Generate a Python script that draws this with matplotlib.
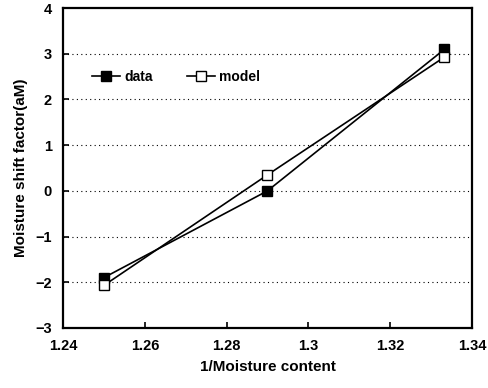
import matplotlib
matplotlib.use("Agg")
import matplotlib.pyplot as plt

x = [1.25, 1.29, 1.3333]
data_vals = [-1.9, 0.0, 3.1]
model_vals = [-2.07, 0.35, 2.93]
xticks = [1.24, 1.26, 1.28, 1.30, 1.32, 1.34]
xticklabels = ["1.24", "1.26", "1.28", "1.3", "1.32", "1.34"]
yticks = [-3, -2, -1, 0, 1, 2, 3, 4]

plt.rcParams['font.family'] = ['Liberation Sans', 'DejaVu Sans']
fig = plt.figure(figsize=(4.89, 3.88), dpi=100)
ax = fig.add_axes([0.129, 0.155, 0.836, 0.824])

ax.plot(x, data_vals, color='black', lw=1.2, marker='s', ms=6.5,
        mfc='black', mec='black', label='data')
ax.plot(x, model_vals, color='black', lw=1.2, marker='s', ms=6.5,
        mfc='white', mec='black', label='model')

ax.set_xlim(1.24, 1.34)
ax.set_ylim(-3, 4)
ax.set_xticks(xticks)
ax.set_xticklabels(xticklabels)
ax.set_yticks(yticks)
ax.set_yticklabels([str(v).replace('-', '\u2212') for v in yticks])
for yv in [-2, -1, 0, 1, 2, 3]:
    ax.axhline(yv, color='black', lw=0.8, ls=(0, (1, 3)), zorder=0)

ax.tick_params(direction='in', length=4, width=1.2, labelsize=10.5, pad=8)
for lab in ax.get_xticklabels() + ax.get_yticklabels():
    lab.set_fontweight('bold')
for s in ax.spines.values():
    s.set_linewidth(1.6)

ax.set_xlabel('1/Moisture content', fontsize=11, fontweight='bold', labelpad=5)
ax.set_ylabel('Moisture shift factor(aM)', fontsize=11, fontweight='bold', labelpad=5)

leg = ax.legend(loc='upper left', bbox_to_anchor=(0.04, 0.845), ncol=2, frameon=False,
                handlelength=2.0, columnspacing=2.5, handletextpad=0.3,
                prop={'weight': 'bold', 'size': 10})

fig.savefig('out.png', dpi=100)
